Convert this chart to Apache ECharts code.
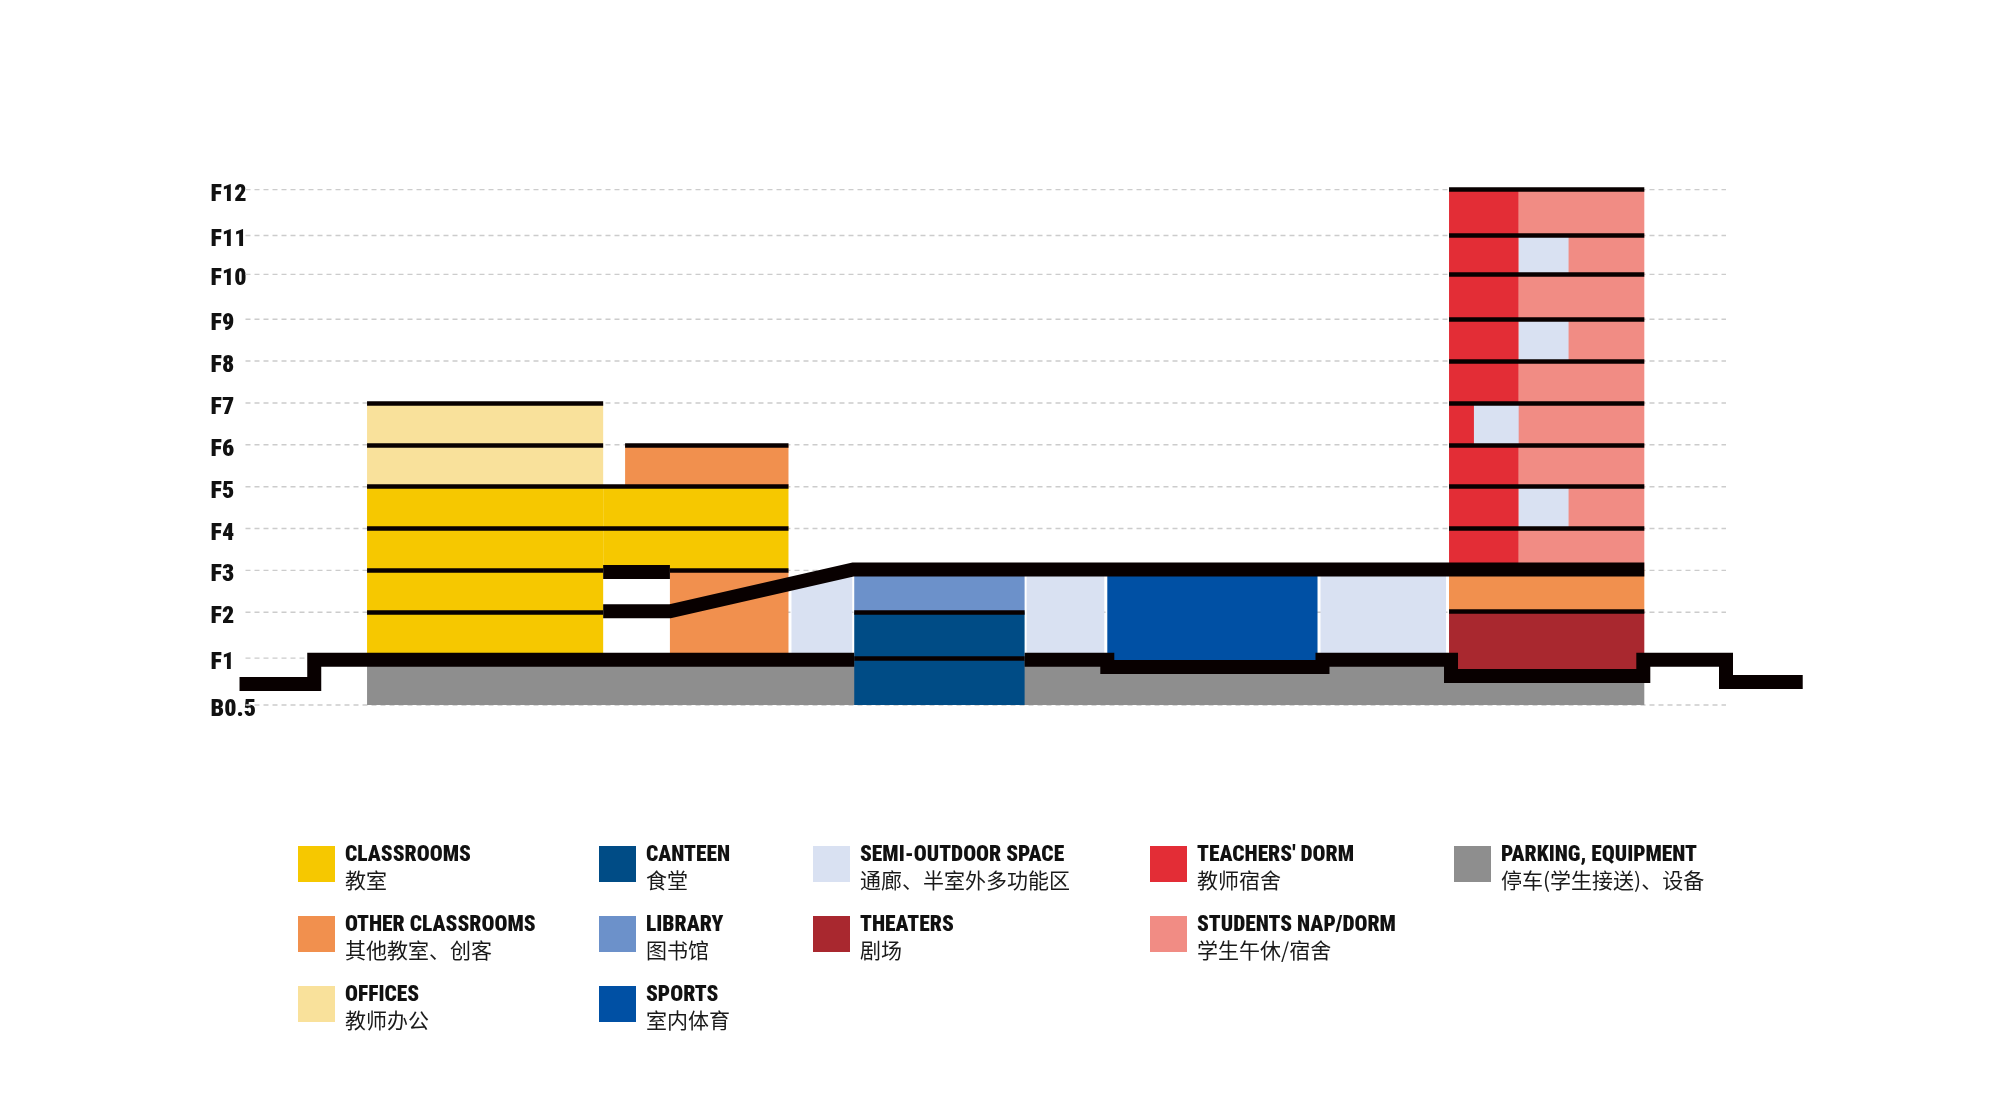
<!DOCTYPE html>
<html>
<head>
<meta charset="utf-8">
<title>School section</title>
<script src="https://cdn.jsdelivr.net/npm/echarts@6.0.0/dist/echarts.min.js"></script>
<style>
  html, body { margin: 0; padding: 0; background: #fff; }
  #chart { width: 2000px; height: 1114px; }
</style>
</head>
<body>
<div id="chart"></div>
<script>
// floor levels in metres, F1 = 0
const floorNames = ['B0.5', 'F1', 'F2', 'F3', 'F4', 'F5', 'F6', 'F7', 'F8', 'F9', 'F10', 'F11', 'F12'];
const floorLevels = [-4.7, 0, 4.6, 8.8, 13.0, 17.2, 21.4, 25.6, 29.8, 34.0, 38.5, 42.4, 47.0];

// section length shown by the grid lines, metres
const sectionStart = 0;
const sectionEnd = 148.6;

// room types
const typeNames = ['CLASSROOMS', 'OTHER CLASSROOMS', 'OFFICES', 'CANTEEN', 'LIBRARY', 'SPORTS',
  'SEMI-OUTDOOR SPACE', 'THEATERS', "TEACHERS' DORM", 'STUDENTS NAP/DORM', 'PARKING, EQUIPMENT'];
const typeNamesZh = ['教室', '其他教室、创客', '教师办公', '食堂', '图书馆', '室内体育',
  '通廊、半室外多功能区', '剧场', '教师宿舍', '学生午休/宿舍', '停车(学生接送)、设备'];
const typeColors = ['#F6C800', '#F1904E', '#F9E19B', '#004C86', '#6C91CA', '#0050A4',
  '#D9E1F2', '#A9282F', '#E32D36', '#F18C84', '#8E8E8E'];

// blocks: [x from, x to, bottom, top (, top at the right end)] in metres
const classrooms = [[12.2, 35.9, 0, 17.2], [35.9, 54.5, 8.8, 17.2]];
const otherClassrooms = [[38.1, 54.5, 17.2, 21.4], [42.6, 54.5, 0, 8.8], [120.8, 140.4, 4.7, 8.9]];
const offices = [[12.2, 35.9, 17.2, 25.6]];
const canteen = [[61.1, 78.2, -4.7, 4.6]];
const library = [[61.1, 78.2, 4.6, 8.9]];
const sports = [[86.5, 107.6, -0.9, 8.9]];
const semiOutdoor = [[54.8, 60.9, 0, 7.5, 8.9], [78.4, 86.2, 0, 8.9, 8.9], [107.9, 120.5, 0, 8.9, 8.9],
  [127.8, 132.8, 13.0, 17.2, 17.2], [123.3, 127.8, 21.4, 25.6, 25.6],
  [127.8, 132.8, 29.8, 34.0, 34.0], [127.8, 132.8, 38.5, 42.4, 42.4]];
const theaters = [[120.8, 140.4, -1.8, 4.7]];
const teachersDorm = [[120.8, 127.8, 8.9, 47.0]];
const studentsDorm = [[127.8, 140.4, 8.9, 47.0]];
const parking = [[12.2, 140.4, -4.7, -0.2]];

const blocksByType = [classrooms, otherClassrooms, offices, canteen, library, sports,
  semiOutdoor, theaters, teachersDorm, studentsDorm, parking];

// thin floor slabs: [level, x from, x to]
const floorSlabs = [
  [4.6, 12.2, 35.9], [8.8, 12.2, 35.9], [8.8, 42.6, 54.5], [13.0, 12.2, 54.5], [17.2, 12.2, 54.5],
  [21.4, 12.2, 35.9], [21.4, 38.1, 54.5], [25.6, 12.2, 35.9],
  [0, 61.1, 78.2], [4.6, 61.1, 78.2],
  [4.7, 120.8, 140.4], [13.0, 120.8, 140.4], [17.2, 120.8, 140.4], [21.4, 120.8, 140.4],
  [25.6, 120.8, 140.4], [29.8, 120.8, 140.4], [34.0, 120.8, 140.4], [38.5, 120.8, 140.4],
  [42.4, 120.8, 140.4], [47.0, 120.8, 140.4]
];

// ground profile and the raised deck, [x, level]
const groundWest = [[-0.6, -2.6], [6.9, -2.6], [6.9, -0.15], [61.1, -0.15]];
const groundEast = [[78.2, -0.15], [86.5, -0.15], [86.5, -0.9], [108.1, -0.9], [108.1, -0.15],
  [121.0, -0.15], [121.0, -1.8], [140.3, -1.8], [140.3, -0.15], [148.6, -0.15], [148.6, -2.4], [156.3, -2.4]];
const deck = [[35.9, 4.7], [42.6, 4.7], [61.0, 8.9], [140.4, 8.9]];
const bridge = [[35.9, 8.65], [42.6, 8.65]];

// legend columns
const legendColumns = [
  ['CLASSROOMS', 'OTHER CLASSROOMS', 'OFFICES'],
  ['CANTEEN', 'LIBRARY', 'SPORTS'],
  ['SEMI-OUTDOOR SPACE', 'THEATERS'],
  ["TEACHERS' DORM", 'STUDENTS NAP/DORM'],
  ['PARKING, EQUIPMENT']
];
const legendLefts = [298, 599, 813, 1150, 1454];
const legendTops = [828, 898, 968];

const cjkFont = "'Noto Sans CJK SC', 'Noto Sans', sans-serif";

// find a condensed bold face among the installed fonts
function pickNarrowFont() {
  const ctx = document.createElement('canvas').getContext('2d');
  const probe = 'CLASSROOMS';
  function width(font) { ctx.font = font; return ctx.measureText(probe).width; }
  const mono = width('bold 22px monospace');
  const cands = [
    { family: "'Liberation Sans Narrow'", stretch: '' },
    { family: "'Arial Narrow'", stretch: '' },
    { family: "'Roboto Condensed'", stretch: '' },
    { family: "'DejaVu Sans Condensed'", stretch: '' },
    { family: "'Noto Sans'", stretch: 'condensed' },
    { family: "'DejaVu Sans'", stretch: 'condensed' },
    { family: "'Liberation Sans'", stretch: 'condensed' },
    { family: "'Roboto'", stretch: '' },
    { family: "'Liberation Sans'", stretch: '' }
  ];
  let best = null;
  cands.forEach(function (c) {
    const w = width('bold ' + c.stretch + ' 22px ' + c.family + ', monospace');
    let exists;
    if (c.stretch) {
      exists = w < width('bold 22px ' + c.family + ', monospace') - 0.5;
    } else {
      exists = Math.abs(w - mono) > 0.5;
    }
    if (exists && (!best || w < best.w - 0.5)) best = { family: c.family, stretch: c.stretch, w: w };
  });
  return best || { family: 'sans-serif', stretch: '', w: 150 };
}

const narrow = pickNarrowFont();
const narrowFamily = narrow.family + ", sans-serif";
const narrowWeight = ('900 ' + narrow.stretch).trim();
// scale so that "CLASSROOMS" is about 128px wide
const legendEnSize = Math.min(23, Math.round(22 * 124 / narrow.w * 2) / 2);

function blockItem(params, api) {
  const x0 = api.value(0), x1 = api.value(1), y0 = api.value(2), y1 = api.value(3);
  let y2 = api.value(4);
  if (y2 == null || isNaN(y2)) y2 = y1;
  const pts = [api.coord([x0, y0]), api.coord([x1, y0]), api.coord([x1, y2]), api.coord([x0, y1])];
  return {
    type: 'polygon',
    shape: { points: pts },
    style: { fill: api.visual('color') }
  };
}

let chart = echarts.init(document.getElementById('chart'), null, { renderer: 'canvas' });

let drawOrder = [10, 0, 1, 2, 3, 4, 5, 7, 8, 9, 6];
let series = [];

series.push({
  name: 'grid',
  type: 'custom',
  z: 1,
  silent: true,
  data: floorLevels.map(v => [v]),
  renderItem: function (params, api) {
    const y = api.coord([sectionStart, api.value(0)])[1];
    const cs = params.coordSys;
    return {
      type: 'line',
      shape: { x1: cs.x, y1: y, x2: cs.x + cs.width, y2: y },
      style: { stroke: '#cccccc', lineWidth: 1.4, lineDash: [5, 4] }
    };
  }
});

drawOrder.forEach(function (i) {
  series.push({
    name: typeNames[i],
    type: 'custom',
    z: i === 10 ? 2 : (i === 6 ? 4 : 3),
    itemStyle: { color: typeColors[i] },
    dimensions: ['x0', 'x1', 'y0', 'y1', 'y2'],
    encode: { x: [0, 1], y: [2, 3] },
    data: blocksByType[i],
    renderItem: blockItem
  });
});

series.push({
  name: 'slabs',
  type: 'lines',
  coordinateSystem: 'cartesian2d',
  z: 5,
  silent: true,
  clip: false,
  lineStyle: { color: '#080000', width: 4.6, opacity: 1, cap: 'butt' },
  data: floorSlabs.map(s => ({ coords: [[s[1], s[0]], [s[2], s[0]]] }))
});

series.push({
  name: 'ground',
  type: 'lines',
  coordinateSystem: 'cartesian2d',
  polyline: true,
  z: 6,
  silent: true,
  clip: false,
  lineStyle: { color: '#080000', width: 14, opacity: 1, cap: 'butt', join: 'miter' },
  data: [{ coords: groundWest }, { coords: groundEast }, { coords: deck }, { coords: bridge }]
});

// one legend per entry so every row sits exactly where it should
let legends = [];
legendColumns.forEach(function (col, k) {
  col.forEach(function (name, r) {
    legends.push({
      left: legendLefts[k],
      top: legendTops[r],
      padding: 0,
      itemWidth: 37,
      itemHeight: 36,
      icon: 'rect',
      selectedMode: false,
      data: [name],
      formatter: function (n) {
        return '{en|' + n + '}\n{zh|' + typeNamesZh[typeNames.indexOf(n)] + '}';
      },
      textStyle: {
        rich: {
          en: { fontFamily: narrowFamily, fontWeight: narrowWeight, fontSize: legendEnSize, lineHeight: 28, color: '#111111', padding: [17, 0, 0, 5] },
          zh: { fontFamily: cjkFont, fontSize: 21, lineHeight: 33, color: '#1a1a1a', padding: [5, 0, 0, 5] }
        }
      }
    });
  });
});

let option = {
  backgroundColor: '#ffffff',
  animation: false,
  grid: { left: 245.5, right: 274, top: 189.6, bottom: 409 },
  xAxis: {
    type: 'value',
    min: sectionStart,
    max: sectionEnd,
    show: false
  },
  yAxis: {
    type: 'value',
    min: floorLevels[0],
    max: floorLevels[floorLevels.length - 1],
    axisLine: { show: false },
    axisTick: { show: false },
    splitLine: { show: false },
    axisLabel: {
      customValues: floorLevels,
      align: 'left',
      verticalAlign: 'top',
      lineHeight: 10,
      margin: 35,
      fontFamily: narrowFamily,
      fontWeight: narrowWeight,
      fontSize: 24,
      color: '#111111',
      formatter: function (v) {
        let idx = floorLevels.findIndex(l => Math.abs(l - v) < 0.01);
        return idx < 0 ? '' : floorNames[idx];
      }
    }
  },
  legend: legends,
  series: series
};

chart.setOption(option);
</script>
</body>
</html>
